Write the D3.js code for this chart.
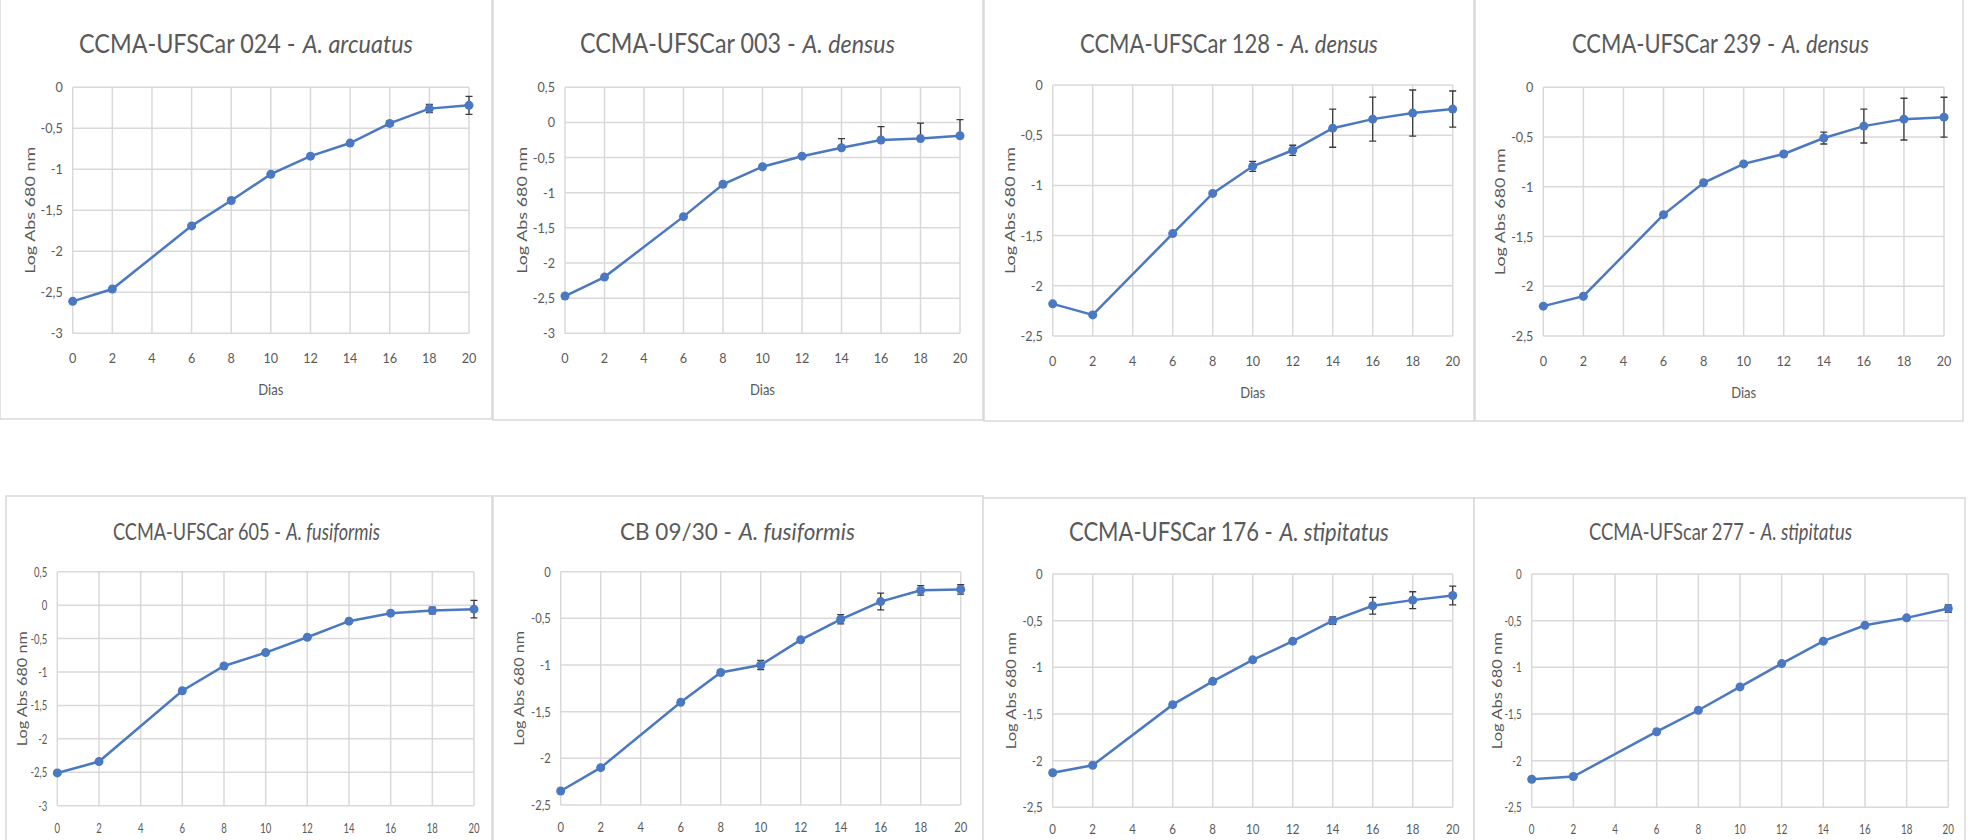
<!DOCTYPE html>
<html>
<head>
<meta charset="utf-8">
<script src="https://cdn.jsdelivr.net/npm/d3@7"></script>
<style>
  body { margin: 0; background: #fff; }
  svg { display: block; font-family: Lato, "Open Sans", sans-serif; }
</style>
</head>
<body>
<div id="chart"></div>
<script>
// days of culture (x axis)
var days = [0, 2, 6, 8, 10, 12, 14, 16, 18, 20];
var x_ticks = [0, 2, 4, 6, 8, 10, 12, 14, 16, 18, 20];

var strains = ['CCMA-UFSCar 024 -', 'CCMA-UFSCar 003 -', 'CCMA-UFSCar 128 -', 'CCMA-UFSCar 239 -',
               'CCMA-UFSCar 605 -', 'CB 09/30 -', 'CCMA-UFSCar 176 -', 'CCMA-UFScar 277 -'];
var species = ['A. arcuatus', 'A. densus', 'A. densus', 'A. densus',
               'A. fusiformis', 'A. fusiformis', 'A. stipitatus', 'A. stipitatus'];

// log abs 680 nm
var abs_024 = [-2.61, -2.46, -1.69, -1.38, -1.06, -0.84, -0.68, -0.44, -0.26, -0.22];
var abs_003 = [-2.47, -2.20, -1.34, -0.88, -0.63, -0.48, -0.36, -0.25, -0.23, -0.19];
var abs_128 = [-2.18, -2.29, -1.48, -1.08, -0.81, -0.65, -0.43, -0.34, -0.28, -0.24];
var abs_239 = [-2.20, -2.10, -1.28, -0.96, -0.77, -0.67, -0.51, -0.39, -0.32, -0.30];
var abs_605 = [-2.51, -2.34, -1.28, -0.91, -0.71, -0.48, -0.24, -0.12, -0.08, -0.06];
var abs_cb0930 = [-2.35, -2.10, -1.40, -1.08, -1.00, -0.73, -0.51, -0.32, -0.20, -0.19];
var abs_176 = [-2.13, -2.05, -1.40, -1.15, -0.92, -0.72, -0.50, -0.34, -0.28, -0.23];
var abs_277 = [-2.20, -2.17, -1.69, -1.46, -1.21, -0.96, -0.72, -0.55, -0.47, -0.37];

// standard deviations
var err_024 = [0, 0, 0, 0, 0, 0, 0, 0.03, 0.05, 0.11];
var err_003 = [0, 0, 0, 0, 0, 0, 0.13, 0.19, 0.22, 0.23];
var err_128 = [0, 0, 0, 0, 0.05, 0.05, 0.19, 0.22, 0.23, 0.18];
var err_239 = [0, 0, 0, 0, 0, 0, 0.06, 0.17, 0.21, 0.20];
var err_605 = [0, 0, 0, 0, 0, 0, 0, 0, 0.05, 0.13];
var err_cb0930 = [0, 0, 0, 0, 0.05, 0, 0.05, 0.09, 0.05, 0.05];
var err_176 = [0, 0, 0, 0, 0, 0, 0.04, 0.09, 0.09, 0.10];
var err_277 = [0, 0, 0, 0, 0, 0, 0, 0, 0, 0.04];

var y_max = [0, 0.5, 0, 0, 0.5, 0, 0, 0];
var y_min = [-3, -3, -2.5, -2.5, -3, -2.5, -2.5, -2.5];

var series = [abs_024, abs_003, abs_128, abs_239, abs_605, abs_cb0930, abs_176, abs_277];
var errors = [err_024, err_003, err_128, err_239, err_605, err_cb0930, err_176, err_277];
var plus_only = [false, true, false, false, false, false, false, false];

// page layout of each small chart
// title: [centre x, baseline, width, font size]; sx: horizontal squeeze of tick labels
var layout = [
  { box: [0, -2, 492, 421],     plot: [72.7, 87.3, 469, 333.3],     title: [246, 53, 334, 26],    ylab: [38, 127], sx: 0.9,  row: 0 },
  { box: [493, -2, 490, 422],   plot: [565, 87.3, 960, 333.3],      title: [737.5, 53, 315, 26],  ylab: [38, 127], sx: 0.9,  row: 0 },
  { box: [984, -2, 490, 423],   plot: [1052.7, 85, 1452.7, 336],    title: [1229, 53, 298, 26],   ylab: [38, 127], sx: 0.9,  row: 0 },
  { box: [1475, -2, 488, 423],  plot: [1543.3, 87.3, 1944, 336],    title: [1720.5, 53, 297, 26], ylab: [38, 127], sx: 0.9,  row: 0 },
  { box: [6, 496, 486, 400],    plot: [57.3, 571.7, 474, 805.7],    title: [246.5, 540, 267, 24], ylab: [30, 115], sx: 0.68, row: 1 },
  { box: [493, 496, 490, 400],  plot: [560.7, 571.7, 960.7, 805],   title: [737.5, 540, 235, 24], ylab: [37, 115], sx: 0.8,  row: 1 },
  { box: [983, 498, 491, 400],  plot: [1052.7, 574, 1452.7, 807.3], title: [1229, 541, 320, 26],  ylab: [37, 117], sx: 0.82, row: 1 },
  { box: [1474, 498, 491, 400], plot: [1531.7, 574, 1948.3, 807.3], title: [1720.5, 540, 263, 24], ylab: [30, 117], sx: 0.7,  row: 1 }
];

var width = 1973;
var height = 840;
var line_color = '#4a78c2';
var grid_color = '#d9d9d9';
var text_color = '#595959';

var svg = d3.select('#chart')
  .append('svg')
  .attr('width', width)
  .attr('height', height);

function fmt(d) {
  return String(d).replace('.', ',');
}

series.forEach(function(values, k) {
  var L = layout[k];
  var g = svg.append('g');

  // panel frame
  g.append('rect')
    .attr('x', L.box[0])
    .attr('y', L.box[1])
    .attr('width', L.box[2])
    .attr('height', L.box[3])
    .attr('fill', '#fff')
    .attr('stroke', grid_color)
    .attr('stroke-width', 1.5);

  var x_scale = d3.scaleLinear()
    .domain([0, 20])
    .range([L.plot[0], L.plot[2]]);

  var y_scale = d3.scaleLinear()
    .domain([y_min[k], y_max[k]])
    .range([L.plot[3], L.plot[1]]);

  var y_ticks = d3.range(y_min[k], y_max[k] + 0.01, 0.5);

  // grid
  g.selectAll('.hgrid')
    .data(y_ticks)
    .enter()
    .append('line')
    .attr('x1', L.plot[0])
    .attr('x2', L.plot[2])
    .attr('y1', function(d) { return y_scale(d); })
    .attr('y2', function(d) { return y_scale(d); })
    .attr('stroke', grid_color)
    .attr('stroke-width', 1.5);

  g.selectAll('.vgrid')
    .data(x_ticks)
    .enter()
    .append('line')
    .attr('x1', function(d) { return x_scale(d); })
    .attr('x2', function(d) { return x_scale(d); })
    .attr('y1', L.plot[1])
    .attr('y2', L.plot[3])
    .attr('stroke', grid_color)
    .attr('stroke-width', 1.5);

  // tick labels (squeezed sideways like the original)
  g.selectAll('.ylab')
    .data(y_ticks)
    .enter()
    .append('text')
    .text(fmt)
    .attr('transform', function(d) {
      return 'translate(' + (L.plot[0] - 10) + ',' + (y_scale(d) + 5) + ') scale(' + L.sx + ',1)';
    })
    .attr('text-anchor', 'end')
    .attr('font-size', 14)
    .attr('fill', text_color);

  g.selectAll('.xlab')
    .data(x_ticks)
    .enter()
    .append('text')
    .text(function(d) { return d; })
    .attr('transform', function(d) {
      return 'translate(' + x_scale(d) + ',' + (L.plot[3] + (L.row ? 27 : 30)) + ') scale(' + L.sx + ',1)';
    })
    .attr('text-anchor', 'middle')
    .attr('font-size', 14)
    .attr('fill', text_color);

  // axis titles
  if (L.row === 0) {
    g.append('text')
      .text('Dias')
      .attr('x', (L.plot[0] + L.plot[2]) / 2)
      .attr('y', L.plot[3] + 62)
      .attr('text-anchor', 'middle')
      .attr('font-size', 15)
      .attr('fill', text_color)
      .attr('textLength', 25)
      .attr('lengthAdjust', 'spacingAndGlyphs');
  }

  var ymid = (L.plot[1] + L.plot[3]) / 2;
  g.append('text')
    .text('Log Abs 680 nm')
    .attr('transform', 'translate(' + (L.plot[0] - L.ylab[0]) + ',' + ymid + ') rotate(-90)')
    .attr('x', -L.ylab[1] / 2)
    .attr('font-size', 14)
    .attr('fill', text_color)
    .attr('textLength', L.ylab[1])
    .attr('lengthAdjust', 'spacingAndGlyphs');

  // chart title: strain in roman, species in italics, squeezed to the original width
  var t1 = g.append('text')
    .text(strains[k])
    .attr('font-size', L.title[3])
    .attr('fill', text_color);
  var t2 = g.append('text')
    .text(species[k])
    .attr('font-size', L.title[3])
    .attr('font-style', 'italic')
    .attr('fill', text_color);
  var w1 = t1.node().getComputedTextLength();
  var w2 = t2.node().getComputedTextLength();
  var gap = L.title[3] * 0.3;
  var f = L.title[2] / (w1 + gap + w2);
  var x0 = L.title[0] - L.title[2] / 2;
  t1.attr('transform', 'translate(' + x0 + ',' + L.title[1] + ') scale(' + f + ',1)');
  t2.attr('transform', 'translate(' + (x0 + (w1 + gap) * f) + ',' + L.title[1] + ') scale(' + f + ',1)');

  // error bars
  var pts = days.map(function(d, i) {
    return { x: d, y: values[i], e: errors[k][i] };
  }).filter(function(p) { return p.e > 0; });

  g.selectAll('.err')
    .data(pts)
    .enter()
    .append('path')
    .attr('d', function(p) {
      var cx = x_scale(p.x);
      var top = y_scale(p.y + p.e);
      var bot = plus_only[k] ? y_scale(p.y) : y_scale(p.y - p.e);
      var s = 'M' + cx + ',' + top + 'V' + bot + 'M' + (cx - 3.5) + ',' + top + 'H' + (cx + 3.5);
      if (!plus_only[k]) s += 'M' + (cx - 3.5) + ',' + bot + 'H' + (cx + 3.5);
      return s;
    })
    .attr('stroke', '#3a3a3a')
    .attr('stroke-width', 1.3)
    .attr('fill', 'none');

  // line + markers
  var line = d3.line()
    .x(function(d, i) { return x_scale(days[i]); })
    .y(function(d) { return y_scale(d); });

  g.append('path')
    .datum(values)
    .attr('d', line)
    .attr('fill', 'none')
    .attr('stroke', line_color)
    .attr('stroke-width', 2.5);

  g.selectAll('.dot')
    .data(values)
    .enter()
    .append('circle')
    .attr('cx', function(d, i) { return x_scale(days[i]); })
    .attr('cy', function(d) { return y_scale(d); })
    .attr('r', 4.5)
    .attr('fill', line_color);
});
</script>
</body>
</html>
